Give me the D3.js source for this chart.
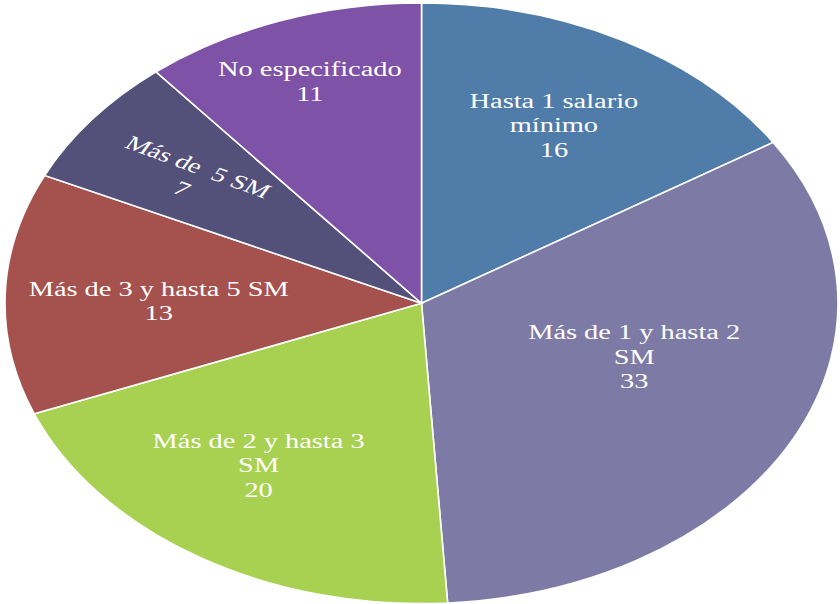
<!DOCTYPE html>
<html>
<head>
<meta charset="utf-8">
<script src="https://cdn.jsdelivr.net/npm/d3@7"></script>
<style>
  body { margin: 0; background: #fff; }
  svg text { font-family: "Liberation Serif", "Times New Roman", serif; fill: #fff; white-space: pre; }
</style>
</head>
<body>
<svg width="840" height="604"></svg>
<script>
// data
const categories = ["Hasta 1 salario mínimo", "Más de 1 y hasta 2 SM", "Más de 2 y hasta 3 SM",
                    "Más de 3 y hasta 5 SM", "Más de  5 SM", "No especificado"];
const values = [16, 33, 20, 13, 7, 11];
const labelLines = [["Hasta 1 salario", "mínimo"], ["Más de 1 y hasta 2", "SM"], ["Más de 2 y hasta 3", "SM"],
                    ["Más de 3 y hasta 5 SM"], ["Más de  5 SM"], ["No especificado"]];
const colors = ["#4f7ca9", "#7d7ba6", "#a8d152", "#a5524f", "#535079", "#7d52a7"];

// layout (label nudges from the arc centroid, rotation per label)
const labelNudge = [[12, -20], [-10, -28], [-29, 10], [-13, 4], [-34, -15], [-27, -52]];
const labelRotate = [0, 0, 0, 0, 27.6, 0];

const cx = 421.5, cy = 303.3, rx = 416.5, ry = 300.3;
const sx = rx / ry;
const textScale = 1.42, fontSize = 20, lineH = 24.5;

let svg = d3.select("svg");

let pie = d3.pie().sort(null).value(function(d) { return d; });
let arcs = pie(values);

let arc = d3.arc().innerRadius(0).outerRadius(ry);
let labelArc = d3.arc().innerRadius(ry * 0.6).outerRadius(ry * 0.6);

let g = svg.append("g")
  .attr("transform", "translate(" + cx + "," + cy + ") scale(" + sx + ",1)");

g.selectAll("path")
  .data(arcs)
  .enter().append("path")
    .attr("d", arc)
    .attr("fill", function(d, i) { return colors[i]; })
    .attr("stroke", "#fff")
    .attr("stroke-width", 1.6)
    .attr("vector-effect", "non-scaling-stroke");

// labels
let labels = svg.append("g").selectAll("g")
  .data(arcs)
  .enter().append("g")
    .attr("transform", function(d, i) {
      let c = labelArc.centroid(d);
      let x = cx + c[0] * sx + labelNudge[i][0];
      let y = cy + c[1] + labelNudge[i][1];
      return "translate(" + x + "," + y + ") scale(" + textScale + ",1) rotate(" + labelRotate[i] + ")";
    });

labels.each(function(d, i) {
  let lines = labelLines[i].concat([String(values[i])]);
  let n = lines.length;
  let t = d3.select(this).append("text")
    .attr("text-anchor", "middle")
    .attr("font-size", fontSize);
  lines.forEach(function(line, k) {
    t.append("tspan")
      .attr("x", 0)
      .attr("y", (k - (n - 1) / 2) * lineH + fontSize * 0.33)
      .text(line);
  });
});
</script>
</body>
</html>
